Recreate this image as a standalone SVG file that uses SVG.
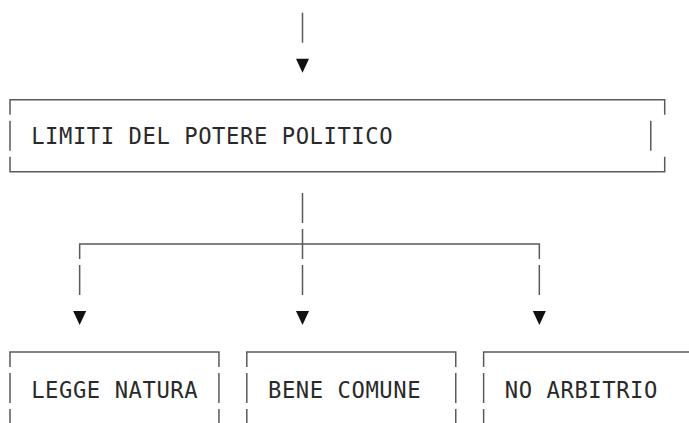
<svg xmlns="http://www.w3.org/2000/svg" xmlns:xlink="http://www.w3.org/1999/xlink" width="689" height="423" viewBox="0 0 689 423">
<style>
.ln{fill:none;stroke:#5a5a5a;stroke-width:1.5}
.tx{font-family:"DejaVu Sans Mono","Liberation Mono",monospace;font-size:22.2px;letter-spacing:0.56px;fill:#2a2a2a}
.ar{fill:#111}
</style>
<defs>
<polygon id="tri" points="-6.5,0 6.5,0 0,14"/>
</defs>
<rect width="689" height="423" fill="#fff"/>
<g id="connectors">
<path class="ln" d="M302.5,12.7V42.7 M302.5,192.9V222.9 M79.65,258.9V243.9H539.34V258.9 M302.5,228.9V258.9 M79.65,264.9V294.9 M302.5,264.9V294.9 M539.34,264.9V294.9"/>
<use xlink:href="#tri" href="#tri" class="ar" x="302.5" y="58.7"/>
<use xlink:href="#tri" href="#tri" class="ar" x="79.65" y="311"/>
<use xlink:href="#tri" href="#tri" class="ar" x="302.5" y="311"/>
<use xlink:href="#tri" href="#tri" class="ar" x="539.34" y="311"/>
</g>
<g id="node-limiti">
<path class="ln" d="M10,114.8V99.8H664.71V114.8 M10,120.8V150.8 M650.78,120.8V150.8 M10,156.8V171.8H664.71V156.8"/>
<text class="tx" x="31.2" y="144.3">LIMITI DEL POTERE POLITICO</text>
</g>
<g id="node-legge">
<path class="ln" d="M10,367V352H218.95V367 M10,373V403 M218.95,373V403 M10,409V439 M218.95,409V439"/>
<text class="tx" x="31.2" y="398">LEGGE NATURA</text>
</g>
<g id="node-bene">
<path class="ln" d="M246.81,367V352H455.76V367 M246.81,373V403 M455.76,373V403 M246.81,409V439 M455.76,409V439"/>
<text class="tx" x="268" y="398">BENE COMUNE</text>
</g>
<g id="node-arbitrio">
<path class="ln" d="M483.62,367V352H690 M483.62,373V403 M483.62,409V439"/>
<text class="tx" x="504.8" y="398">NO ARBITRIO</text>
</g>
</svg>
